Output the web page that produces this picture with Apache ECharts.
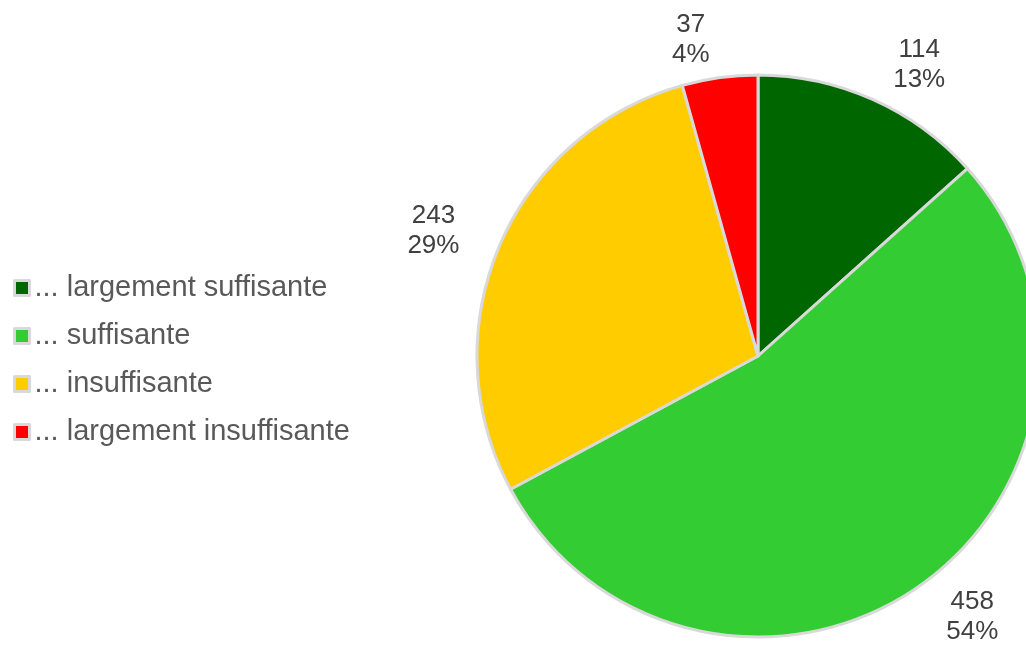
<!DOCTYPE html>
<html><head><meta charset="utf-8">
<script src="https://cdn.jsdelivr.net/npm/echarts@6/dist/echarts.min.js"></script>
<style>html,body{margin:0;padding:0;background:#fff}#c{width:1026px;height:662px}</style>
</head><body><div id="c"></div>
<script>
const categories = ['... largement suffisante', '... suffisante', '... insuffisante', '... largement insuffisante'];
const values = [114, 458, 243, 37];
const colors = ['#006600', '#33CC33', '#FFCC00', '#FF0000'];

const chart = echarts.init(document.getElementById('c'));
chart.setOption({
  animation: false,
  backgroundColor: '#ffffff',
  legend: {
    orient: 'vertical',
    left: 8,
    top: 266,
    icon: 'rect',
    itemWidth: 15,
    itemHeight: 15,
    itemGap: 14,
    itemStyle: { borderColor: '#d9d9d9', borderWidth: 3 },
    textStyle: { fontFamily: 'Liberation Sans, Arial, sans-serif', fontSize: 29, color: '#595959', lineHeight: 34, padding: [0,0,0,0] },
    data: categories
  },
  series: [{
    type: 'pie',
    center: [758, 356],
    radius: [0, 281],
    startAngle: 90,
    clockwise: true,
    avoidLabelOverlap: false,
    itemStyle: { borderColor: '#d9d9d9', borderWidth: 3 },
    label: {
      show: true,
      position: 'outside',
      formatter: function (p) { return p.value + '\n' + Math.round(p.percent) + '%'; },
      fontFamily: 'Liberation Sans, Arial, sans-serif',
      fontSize: 26,
      lineHeight: 30,
      color: '#404040'
    },
    labelLine: { show: false, length: 38, length2: 0 },
    labelLayout: function (params) {
      const w = params.labelRect.width;
      return { align: 'center', dx: params.align === 'left' ? w / 2 : (params.align === 'right' ? -w / 2 : 0) };
    },
    emphasis: { disabled: true },
    data: categories.map((n, i) => ({ name: n, value: values[i], itemStyle: { color: colors[i] } }))
  }]
});
</script></body></html>
